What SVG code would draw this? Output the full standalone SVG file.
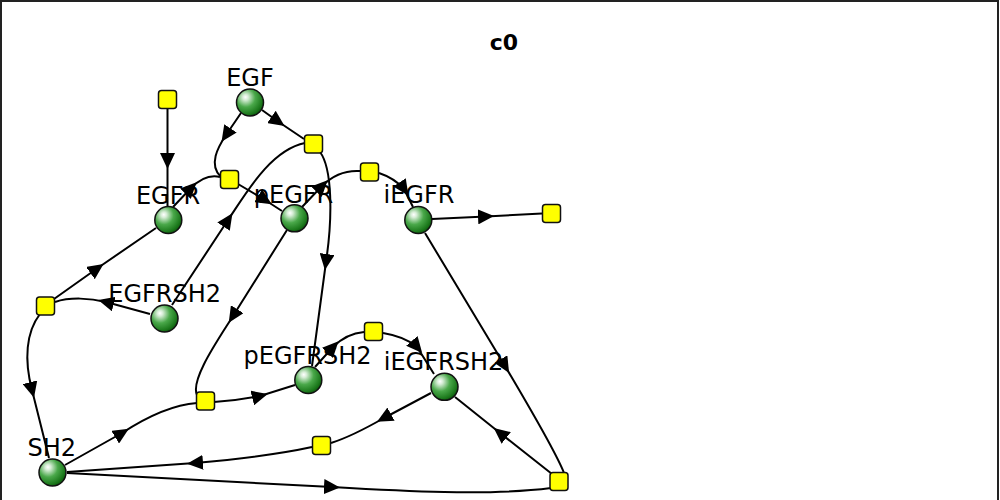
<svg xmlns="http://www.w3.org/2000/svg" width="1000" height="500" viewBox="0 0 1000 500">
<defs>
<radialGradient id="sph" cx="0.36" cy="0.34" fx="0.33" fy="0.3" r="0.7">
<stop offset="0" stop-color="#ffffff"/>
<stop offset="0.15" stop-color="#d6edd6"/>
<stop offset="0.5" stop-color="#4aa84a"/>
<stop offset="0.85" stop-color="#1d7a1d"/>
<stop offset="1" stop-color="#0d5a0d"/>
</radialGradient>
<marker id="ah" viewBox="0 0 16 15" refX="8" refY="7.5" markerWidth="16" markerHeight="15" markerUnits="userSpaceOnUse" orient="auto">
<path d="M0,0 L16,7.5 L0,15 z" fill="#000"/>
</marker>
</defs>
<style>
.sp{fill:url(#sph);stroke:#111;stroke-width:1.5}
.rx{fill:#ffff00;stroke:#111;stroke-width:1.5}
.lb{font-family:"DejaVu Sans",sans-serif;font-size:24px;fill:#000;text-anchor:middle}
.tt{font-family:"DejaVu Sans",sans-serif;font-size:22px;font-weight:bold;fill:#000;text-anchor:middle}
.e{fill:none;stroke:#000;stroke-width:2;marker-mid:url(#ah)}
</style>
<rect x="1" y="1" width="997" height="520" fill="#fff" stroke="#222" stroke-width="2"/>
<text class="tt" x="504" y="50">c0</text>
<g id="connectors">
<path class="e" d="M167.5,109 L167.5,161 L167.5,206"/>
<path class="e" d="M241,113 L226,135 C218,147 208,165 221,177"/>
<path class="e" d="M173,207 L191,188 C199,180 208,174 220,177"/>
<path class="e" d="M238,184 L265,200 L282,211"/>
<path class="e" d="M262,110 L278,121.5 L304,139"/>
<path class="e" d="M172,305 L228,220 C245,195 270,150 305,143"/>
<path class="e" d="M320,152 C332,168 333,215 326,262 L312,366"/>
<path class="e" d="M302,207 L322,186 C332,176 345,170 360,171"/>
<path class="e" d="M379,173 C388,176 397,181 404,189 L413,207"/>
<path class="e" d="M432,219 L486,216.5 L542,213.5"/>
<path class="e" d="M150,314 L106,302 C90,298 70,297 55,302"/>
<path class="e" d="M54,299 L97,268.5 L156,228"/>
<path class="e" d="M40,314 C26,332 24,360 32,390 L49,458"/>
<path class="e" d="M287,230 L233,316 C218,340 190,380 197,395"/>
<path class="e" d="M65,465 L122,433 C145,418 170,405 197,403"/>
<path class="e" d="M214,402 C230,401 245,399 260,396 L295,385"/>
<path class="e" d="M315,367 L333,347 C341,339 352,333 364,332"/>
<path class="e" d="M383,333 C395,335 408,339 417,347 L434,374"/>
<path class="e" d="M431,393 L384,418 C370,426 350,437 331,443"/>
<path class="e" d="M312,447 C280,454 240,459 195,463 L67,472"/>
<path class="e" d="M67,473 L332,487 C400,491 490,496 551,488"/>
<path class="e" d="M425,233 L505,366 C525,400 555,450 564,473"/>
<path class="e" d="M552,474 L500,433 L455,397"/>
</g>
<g id="r1"><rect class="rx" x="158.5" y="90.5" width="18" height="18" rx="3"/></g>
<g id="r2"><rect class="rx" x="220.5" y="170.5" width="18" height="18" rx="3"/></g>
<g id="r3"><rect class="rx" x="304.5" y="135" width="18" height="18" rx="3"/></g>
<g id="r4"><rect class="rx" x="360.5" y="163" width="18" height="18" rx="3"/></g>
<g id="r5"><rect class="rx" x="542.5" y="204.5" width="18" height="18" rx="3"/></g>
<g id="r6"><rect class="rx" x="36.5" y="297" width="18" height="18" rx="3"/></g>
<g id="r7"><rect class="rx" x="196.5" y="392" width="18" height="18" rx="3"/></g>
<g id="r8"><rect class="rx" x="364.5" y="322.5" width="18" height="18" rx="3"/></g>
<g id="r9"><rect class="rx" x="312.5" y="436.5" width="18" height="18" rx="3"/></g>
<g id="r10"><rect class="rx" x="550" y="472.5" width="18" height="18" rx="3"/></g>
<g id="EGF"><circle class="sp" cx="250" cy="102.5" r="13.5"/><text class="lb" x="250" y="86">EGF</text></g>
<g id="EGFR"><circle class="sp" cx="168.3" cy="220" r="13.5"/><text class="lb" x="168" y="204">EGFR</text></g>
<g id="pEGFR"><circle class="sp" cx="294.5" cy="218.3" r="13.5"/><text class="lb" x="293.5" y="203">pEGFR</text></g>
<g id="iEGFR"><circle class="sp" cx="418.3" cy="220" r="13.5"/><text class="lb" x="419" y="203">iEGFR</text></g>
<g id="EGFRSH2"><circle class="sp" cx="164.5" cy="318.5" r="13.5"/><text class="lb" x="164.7" y="302">EGFRSH2</text></g>
<g id="pEGFRSH2"><circle class="sp" cx="308.3" cy="380" r="13.5"/><text class="lb" x="307.5" y="363.5">pEGFRSH2</text></g>
<g id="iEGFRSH2"><circle class="sp" cx="444.5" cy="386.8" r="13.5"/><text class="lb" x="443.5" y="369.5">iEGFRSH2</text></g>
<g id="SH2"><circle class="sp" cx="52.5" cy="472.5" r="13.5"/><text class="lb" x="51.7" y="455.5">SH2</text></g>
</svg>
